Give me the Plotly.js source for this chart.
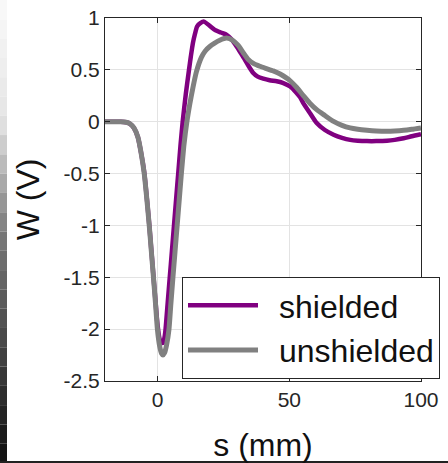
<!DOCTYPE html>
<html>
<head>
<meta charset="utf-8">
<script src="https://cdn.plot.ly/plotly-3.0.1.min.js"></script>
<style>html,body{margin:0;padding:0;background:#fff;}#chart{width:448px;height:463px;}</style>
</head>
<body>
<div id="chart"></div>
<script>
// ---- data ----
const sShielded = [-20,-14,-12,-10.5,-9,-7.5,-6.3,-5.1,-4.1,-3.2,-2.4,-1.6,-0.8,0.0,0.8,1.5,2.1,2.6,3.0,3.8,4.6,5.4,6.2,7.0,7.8,8.7,9.5,10.7,11.9,12.6,13.4,14.2,15,16.2,17.6,19.5,21.7,24,26.2,28.2,30,31.5,33.1,34.7,36.3,38,40.1,42.5,45.2,47.5,50.3,52.5,54.1,55.3,57.8,60.4,63.5,66.8,70,73.1,76,79.5,83,87.1,90,93.4,96.5,100];
const wShielded = [0,0,-0.005,-0.02,-0.06,-0.15,-0.3,-0.49,-0.74,-0.99,-1.24,-1.49,-1.74,-1.97,-2.1,-2.13,-2.13,-2.08,-2.0,-1.75,-1.5,-1.25,-1.0,-0.75,-0.5,-0.22,0.0,0.27,0.5,0.63,0.76,0.85,0.92,0.95,0.965,0.93,0.886,0.86,0.838,0.79,0.725,0.665,0.60,0.53,0.47,0.435,0.415,0.40,0.39,0.375,0.34,0.285,0.235,0.18,0.085,-0.013,-0.08,-0.125,-0.155,-0.175,-0.183,-0.187,-0.187,-0.183,-0.175,-0.16,-0.14,-0.12];

const sUnshielded = [-20,-14,-12,-10.5,-9,-7.5,-6.3,-5.1,-4.1,-3.2,-2.4,-1.6,-0.8,-0.1,0.8,1.5,2.0,2.6,3.4,4.3,5.0,5.8,6.6,7.4,8.2,9.0,10.0,11.1,12.2,13.4,14.7,16.6,18,19.8,21.5,23.6,26.2,28.5,30.6,32.5,34.4,36.5,38.8,41,43.9,46.5,49,50.3,52.8,55.3,57.8,60.4,63.5,66.8,70,73.1,76,79.5,83,87.1,90,93.4,96.5,100];
const wUnshielded = [0,0,-0.005,-0.02,-0.06,-0.15,-0.3,-0.5,-0.75,-1.0,-1.25,-1.5,-1.76,-2.0,-2.17,-2.235,-2.25,-2.23,-2.15,-2.0,-1.76,-1.5,-1.25,-1.0,-0.75,-0.5,-0.22,0.0,0.17,0.33,0.48,0.62,0.68,0.725,0.755,0.785,0.806,0.785,0.735,0.665,0.60,0.56,0.535,0.515,0.49,0.46,0.42,0.395,0.33,0.252,0.178,0.116,0.06,0.003,-0.035,-0.06,-0.073,-0.083,-0.09,-0.093,-0.09,-0.083,-0.073,-0.06];

const seriesNames = ['shielded', 'unshielded'];
const xTickVals = [0, 50, 100];
const xTickText = ['0', '50', '100'];
const yTickVals = [-2.5, -2, -1.5, -1, -0.5, 0, 0.5, 1];
const yTickText = ['-2.5', '-2', '-1.5', '-1', '-0.5', '0', '0.5', '1'];

// ---- layout helpers ----
const W = 448, H = 463;
const mL = 105, mR = 27, mT = 18, mB = 82;
const pw = W - mL - mR, ph = H - mT - mB;
const px = x => (x - mL) / pw;
const py = y => (H - mB - y) / ph;

const shapes = [];
// left edge shading strip (white at top to black at bottom)
const bands = 24;
for (let i = 0; i < bands; i++) {
  const t = i / (bands - 1);
  let g;
  if (t < 0.25) g = 248 - t * 80;
  else if (t < 0.5) g = 228 - (t - 0.25) * 420;
  else g = 123 - (t - 0.5) * 210;
  g = Math.max(20, Math.min(250, Math.round(g)));
  shapes.push({type: 'rect', xref: 'paper', yref: 'paper',
    x0: px(0), x1: px(7), y0: py(i * H / bands), y1: py((i + 1) * H / bands),
    fillcolor: `rgb(${g},${g},${g})`, line: {width: 0}, layer: 'below'});
}
// bottom edge line
shapes.push({type: 'line', xref: 'paper', yref: 'paper',
  x0: px(0), x1: px(W), y0: py(462), y1: py(462),
  line: {color: '#222', width: 2}});

const gap = '\u2002';
const traces = [
  {x: sShielded, y: wShielded, name: gap + seriesNames[0], mode: 'lines',
   line: {color: '#800080', width: 4.5, shape: 'spline', smoothing: 0.6}},
  {x: sUnshielded, y: wUnshielded, name: gap + seriesNames[1], mode: 'lines',
   line: {color: '#808080', width: 5, shape: 'spline', smoothing: 0.6}}
];

const font = 'Liberation Sans, Arial, Helvetica, sans-serif';
const axCol = '#262626';

const layout = {
  width: W, height: H,
  margin: {l: mL, r: mR, t: mT, b: mB, pad: 0, autoexpand: false},
  paper_bgcolor: '#fff', plot_bgcolor: '#fff',
  font: {family: font, color: axCol},
  showlegend: true,
  xaxis: {
    range: [-20, 100], tickvals: xTickVals, ticktext: xTickText,
    ticks: 'inside', ticklen: 5, tickcolor: axCol, tickwidth: 1,
    showline: true, linecolor: axCol, linewidth: 1, mirror: 'ticks',
    showgrid: true, gridcolor: '#e3e3e3', gridwidth: 1, zeroline: false,
    tickfont: {size: 21, color: axCol, family: font},
    title: {text: 's (mm)', font: {size: 32, color: '#111', family: font}, standoff: 24},
    automargin: false
  },
  yaxis: {
    range: [-2.5, 1], tickvals: yTickVals, ticktext: yTickText,
    ticks: 'inside', ticklen: 5, tickcolor: axCol, tickwidth: 1,
    showline: true, linecolor: axCol, linewidth: 1, mirror: 'ticks',
    showgrid: true, gridcolor: '#e3e3e3', gridwidth: 1, zeroline: false,
    tickfont: {size: 21, color: axCol, family: font},
    title: {text: 'W (V)', font: {size: 32, color: '#111', family: font}, standoff: 14},
    automargin: false
  },
  legend: {
    x: px(182), y: py(277), xanchor: 'left', yanchor: 'top',
    bgcolor: '#fff', bordercolor: axCol, borderwidth: 1,
    font: {size: 32, color: '#111', family: font},
    itemwidth: 70, tracegroupgap: 0
  },
  shapes: shapes
};

Plotly.newPlot('chart', traces, layout, {displayModeBar: false, staticPlot: true});
</script>
</body>
</html>
